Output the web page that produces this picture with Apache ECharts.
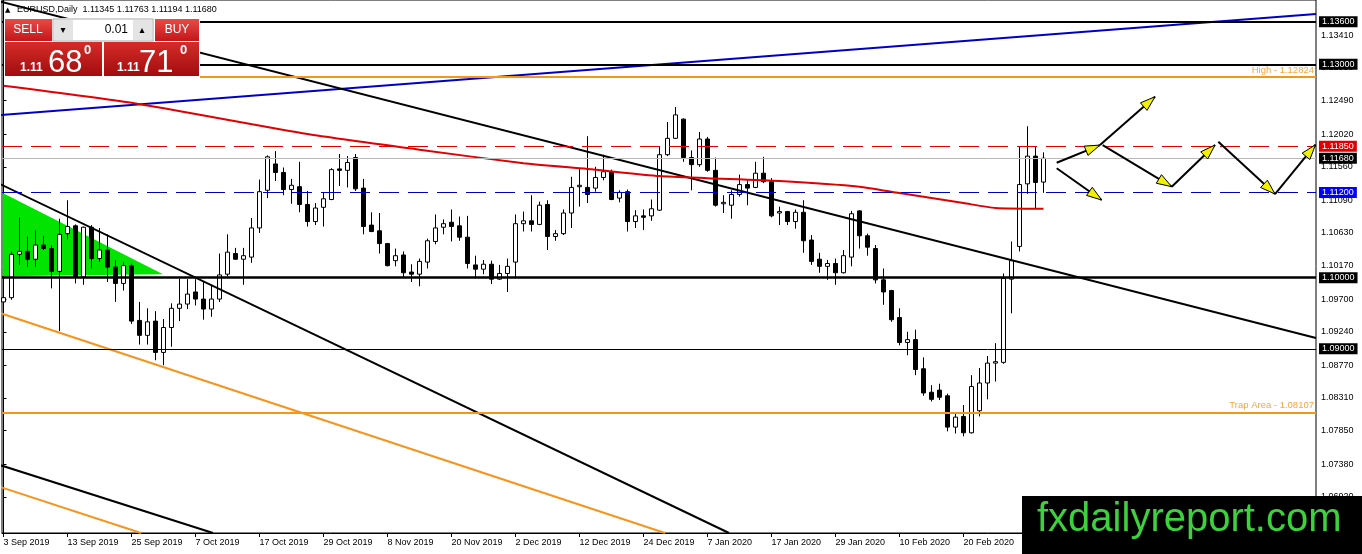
<!DOCTYPE html>
<html>
<head>
<meta charset="utf-8">
<title>EURUSD Daily</title>
<script src="https://cdn.jsdelivr.net/npm/echarts@6/dist/echarts.min.js"></script>
<style>
  html, body { margin: 0; padding: 0; background: #fff; }
  #chart { width: 1362px; height: 554px; }
</style>
</head>
<body>
<div id="chart"></div>
<script>
// bar index 0 = 3 Sep 2019, one bar per trading day
const dateTickBars = [0, 8, 16, 24, 32, 40, 48, 56, 64, 72, 80, 88, 96, 104, 112, 120];
const dateLabels = ['3 Sep 2019', '13 Sep 2019', '25 Sep 2019', '7 Oct 2019', '17 Oct 2019', '29 Oct 2019',
  '8 Nov 2019', '20 Nov 2019', '2 Dec 2019', '12 Dec 2019', '24 Dec 2019', '7 Jan 2020', '17 Jan 2020',
  '29 Jan 2020', '10 Feb 2020', '20 Feb 2020'];
const priceTicks = [1.1341, 1.1295, 1.1249, 1.1202, 1.1156, 1.1109, 1.1063, 1.1017, 1.0970, 1.0924,
  1.0877, 1.0831, 1.0785, 1.0738, 1.0692];

const opens = [
  1.0966, 1.0972, 1.1033, 1.1037, 1.1026, 1.1046, 1.1041, 1.1009, 1.1062, 1.1073,
  1.1001, 1.1071, 1.1027, 1.1039, 1.1015, 1.0992, 1.1017, 1.0940, 1.0919, 1.0939,
  1.0895, 1.0930, 1.0957, 1.0963, 1.0980, 1.0970, 1.0956, 1.0970, 1.1005, 1.1034,
  1.1026, 1.1029, 1.1070, 1.1123, 1.1160, 1.1148, 1.1124, 1.1128, 1.1103, 1.1079,
  1.1099, 1.1110, 1.1153, 1.1151, 1.1169, 1.1126, 1.1074, 1.1066, 1.1048, 1.1024,
  1.1032, 1.1008, 1.1005, 1.1022, 1.1051, 1.1071, 1.1078, 1.1073, 1.1057, 1.1018,
  1.1012, 1.1019, 1.0998, 1.1006, 1.1022, 1.1076, 1.1080, 1.1075, 1.1103, 1.1058,
  1.1062, 1.1091, 1.1128, 1.1127, 1.1126, 1.1141, 1.1149, 1.1112, 1.1121, 1.1079,
  1.1087, 1.1087, 1.1095, 1.1173, 1.1196, 1.1223, 1.1169, 1.1159, 1.1195, 1.1151,
  1.1104, 1.1102, 1.1117, 1.1131, 1.1127, 1.1147, 1.1135, 1.1091, 1.1093, 1.1079,
  1.1092, 1.1053, 1.1026, 1.1016, 1.1020, 1.1007, 1.1029, 1.1094, 1.1059, 1.1041,
  1.0997, 1.0982, 1.0944, 1.0909, 1.0913, 1.0872, 1.0839, 1.0842, 1.0834, 1.0790,
  1.0805, 1.0782, 1.0813, 1.0852, 1.0880, 1.0881, 1.0998, 1.1044, 1.1132, 1.1171,
  1.11345
];
const highs = [
  1.0985, 1.1037, 1.1085, 1.1058, 1.1067, 1.1059, 1.1046, 1.1083, 1.1109, 1.1075,
  1.1072, 1.1074, 1.1070, 1.1061, 1.1025, 1.1022, 1.1020, 1.0966, 1.0957, 1.0953,
  1.0942, 1.0964, 1.0999, 1.0998, 1.0998, 1.0994, 1.0990, 1.1034, 1.1061, 1.1042,
  1.1042, 1.1084, 1.1138, 1.1172, 1.1178, 1.1155, 1.1139, 1.1163, 1.1122, 1.1105,
  1.1120, 1.1154, 1.1174, 1.1171, 1.1174, 1.1139, 1.1092, 1.1091, 1.1049, 1.1041,
  1.1037, 1.1019, 1.1027, 1.1055, 1.1089, 1.1082, 1.1096, 1.1086, 1.1087, 1.1031,
  1.1025, 1.1024, 1.1018, 1.1027, 1.1089, 1.1093, 1.1116, 1.1107, 1.1109, 1.1067,
  1.1096, 1.1142, 1.1153, 1.1199, 1.1156, 1.1173, 1.1152, 1.1123, 1.1124, 1.1095,
  1.1096, 1.1110, 1.1184, 1.1219, 1.1240, 1.1224, 1.1179, 1.1205, 1.1198, 1.1169,
  1.1116, 1.1123, 1.1145, 1.1137, 1.1163, 1.1170, 1.1140, 1.1100, 1.1094, 1.1096,
  1.1109, 1.1060, 1.1035, 1.1025, 1.1027, 1.1039, 1.1094, 1.1095, 1.1062, 1.1046,
  1.1013, 1.0983, 1.0957, 1.0924, 1.0927, 1.0888, 1.0849, 1.0851, 1.0837, 1.0809,
  1.0821, 1.0863, 1.0873, 1.0890, 1.0908, 1.1006, 1.1051, 1.1184, 1.1213, 1.1185,
  1.11763
];
const lows = [
  1.0926, 1.0969, 1.1018, 1.1015, 1.1015, 1.1039, 1.0985, 1.0925, 1.1054, 1.0992,
  1.0990, 1.1013, 1.1022, 1.0994, 1.0966, 1.0982, 1.0935, 1.0906, 1.0906, 1.0884,
  1.0877, 1.0903, 1.0939, 1.0956, 1.0961, 1.0941, 1.0945, 1.0966, 1.1002, 1.1025,
  1.0990, 1.1021, 1.1063, 1.1112, 1.1136, 1.1116, 1.1104, 1.1092, 1.1072, 1.1074,
  1.1072, 1.1109, 1.1129, 1.1127, 1.1122, 1.1061, 1.1064, 1.1034, 1.1016, 1.1016,
  1.1001, 1.0994, 1.0988, 1.1013, 1.1047, 1.1061, 1.1051, 1.1052, 1.1013, 1.0999,
  1.1005, 1.0991, 1.0997, 1.0980, 1.0999, 1.1065, 1.1065, 1.1074, 1.1039, 1.1052,
  1.1060, 1.1070, 1.1100, 1.1105, 1.1121, 1.1137, 1.1109, 1.1106, 1.1065, 1.1070,
  1.1067, 1.1080, 1.1094, 1.1171, 1.1195, 1.1163, 1.1123, 1.1156, 1.1149, 1.1100,
  1.1091, 1.1083, 1.1114, 1.1102, 1.1126, 1.1133, 1.1085, 1.1074, 1.1074, 1.1069,
  1.1035, 1.1018, 1.1007, 1.0997, 1.0990, 1.1006, 1.1016, 1.1041, 1.1031, 1.0992,
  1.0962, 1.0938, 1.0905, 1.0891, 1.0863, 1.0834, 1.0826, 1.0828, 1.0784, 1.0781,
  1.0777, 1.0781, 1.0805, 1.0829, 1.0854, 1.0879, 1.0950, 1.1037, 1.1118, 1.1098,
  1.11194
];
const closes = [
  1.0972, 1.1033, 1.1037, 1.1026, 1.1046, 1.1041, 1.1009, 1.1061, 1.1072, 1.1001,
  1.1071, 1.1027, 1.1039, 1.1015, 1.0992, 1.1017, 1.0939, 1.0919, 1.0938, 1.0895,
  1.0930, 1.0957, 1.0963, 1.0977, 1.0970, 1.0956, 1.0970, 1.1004, 1.1036, 1.1026,
  1.1031, 1.1070, 1.1121, 1.1170, 1.1148, 1.1124, 1.1130, 1.1103, 1.1079, 1.1098,
  1.1111, 1.1152, 1.1151, 1.1162, 1.1125, 1.1072, 1.1065, 1.1048, 1.1017, 1.1031,
  1.1007, 1.1005, 1.1023, 1.1052, 1.1070, 1.1076, 1.1072, 1.1057, 1.1020, 1.1012,
  1.1019, 1.0998, 1.1006, 1.1016, 1.1076, 1.1080, 1.1075, 1.1102, 1.1058, 1.1062,
  1.1091, 1.1127, 1.1130, 1.1117, 1.1141, 1.1149, 1.1110, 1.1120, 1.1079, 1.1087,
  1.1085, 1.1097, 1.1173, 1.1196, 1.1229, 1.1169, 1.1159, 1.1195, 1.1151, 1.1102,
  1.1106, 1.1117, 1.1131, 1.1126, 1.1147, 1.1135, 1.1087, 1.1093, 1.1079, 1.1092,
  1.1052, 1.1023, 1.1016, 1.1020, 1.1007, 1.1031, 1.1090, 1.1059, 1.1043, 1.0997,
  1.0980, 1.0941, 1.0909, 1.0913, 1.0871, 1.0838, 1.0829, 1.0832, 1.0790, 1.0804,
  1.0782, 1.0847, 1.0852, 1.0880, 1.0882, 1.0999, 1.1024, 1.1131, 1.1171, 1.1134,
  1.11680
];

// moving average, read at a few bars
const maLine = [[0, 1.1270], [16, 1.1246], [38, 1.1202], [52, 1.1180], [65, 1.1161], [73, 1.1153],
  [82, 1.1143], [88, 1.1140], [97, 1.1136], [107, 1.1128], [112, 1.1119], [120, 1.1105],
  [124, 1.1098], [130, 1.1097]];

// drawn objects: [bar, price] end points
const blueTrend = [[-0.44, 1.12288], [164.06, 1.13708]];
const blackTrendLong = [[-0.44, 1.13883], [164.06, 1.09153]];
const blackTrendSteep = [[-0.44, 1.11318], [90.69, 1.06411]];
const blackTrendLow = [[-0.44, 1.07367], [26.19, 1.06411]];
const orangeTrendUpper = [[-0.44, 1.09504], [82.69, 1.06411]];
const orangeTrendLower = [[-0.44, 1.07058], [17.19, 1.06411]];
const greenTriangle = [[-0.1, 1.1119], [19.94, 1.1005], [-0.1, 1.1002]];
const arrowSegments = [
  [131.65, 1.11617, 137.06, 1.11865],
  [137.06, 1.11865, 143.94, 1.12545],
  [131.65, 1.11539, 137.27, 1.11093],
  [137.4, 1.11865, 146.03, 1.11280],
  [146.03, 1.11280, 151.44, 1.11866],
  [151.85, 1.11913, 158.94, 1.11177],
  [158.94, 1.11177, 164.0, 1.11870]
];

const levelPrices = [1.1360, 1.1300, 1.1185, 1.1168, 1.1120, 1.1000, 1.0900];
const zonePrices = [1.12824, 1.08107];
const zoneNames = ['High', 'Trap Area'];
const zoneStartBars = [24.56, -0.18];

const X_MIN = -0.1875, X_MAX = 164.0625;
const Y_MIN = 1.06411, Y_MAX = 1.13905;

const levelStyles = [
  { color: '#000', width: 2, type: 'solid', bg: '#000' },
  { color: '#000', width: 2, type: 'solid', bg: '#000' },
  { color: '#e00000', width: 1, type: [20, 9], bg: '#e00000' },
  { color: '#b8b8b8', width: 1, type: 'solid', bg: '#000' },
  { color: '#0000c0', width: 1, type: [20, 9], bg: '#0000ff' },
  { color: '#000', width: 2.5, type: 'solid', bg: '#000' },
  { color: '#000', width: 1, type: 'solid', bg: '#000' }
];

const FONT = 'Liberation Sans';

function trendSeries(points, color, z) {
  return {
    type: 'line', data: points, showSymbol: false, silent: true, z: z,
    lineStyle: { color: color, width: 2 }, clip: true
  };
}

const redTop = { type: 'linear', x: 0, y: 0, x2: 0, y2: 1,
  colorStops: [{ offset: 0, color: '#ea4a44' }, { offset: 1, color: '#c4161b' }] };
const redBig = { type: 'linear', x: 0, y: 0, x2: 0, y2: 1,
  colorStops: [{ offset: 0, color: '#d62c28' }, { offset: 1, color: '#a20c0f' }] };

function txt(x, y, text, font, align, vAlign, fill) {
  return { type: 'text', x: x, y: y, z: 100,
    style: { text: text, font: font, fill: fill || '#fff', align: align || 'left', verticalAlign: vAlign || 'middle' } };
}

const panel = [
  { type: 'rect', z: 99, shape: { x: 4, y: 18, width: 196, height: 59 }, style: { fill: '#fff' } },
  { type: 'rect', z: 100, shape: { x: 5, y: 19, width: 47, height: 22 }, style: { fill: redTop } },
  txt(28, 30, 'SELL', '12px ' + FONT, 'center'),
  { type: 'rect', z: 100, shape: { x: 53, y: 19, width: 100, height: 22 }, style: { fill: '#fff', stroke: '#a8a8a8' } },
  { type: 'rect', z: 100, shape: { x: 54, y: 20, width: 19, height: 20 }, style: { fill: '#e4e4e4' } },
  { type: 'rect', z: 100, shape: { x: 133, y: 20, width: 19, height: 20 }, style: { fill: '#e4e4e4' } },
  txt(63, 30, '▾', '10px DejaVu Sans', 'center', 'middle', '#000'),
  txt(142, 30, '▴', '10px DejaVu Sans', 'center', 'middle', '#000'),
  txt(128, 30, '0.01', '12px ' + FONT, 'right', 'middle', '#000'),
  { type: 'rect', z: 100, shape: { x: 155, y: 19, width: 44, height: 22 }, style: { fill: redTop } },
  txt(177, 30, 'BUY', '12px ' + FONT, 'center'),
  { type: 'rect', z: 100, shape: { x: 5, y: 42, width: 97, height: 34 }, style: { fill: redBig } },
  { type: 'rect', z: 100, shape: { x: 104, y: 42, width: 95, height: 34 }, style: { fill: redBig } },
  txt(20, 74, '1.11', 'bold 12px ' + FONT, 'left', 'bottom'),
  txt(48, 79, '68', '31px ' + FONT, 'left', 'bottom'),
  txt(84, 44, '0', 'bold 13px ' + FONT, 'left', 'top'),
  txt(117, 74, '1.11', 'bold 12px ' + FONT, 'left', 'bottom'),
  txt(139, 79, '71', '31px ' + FONT, 'left', 'bottom'),
  txt(180, 44, '0', 'bold 13px ' + FONT, 'left', 'top')
];

const header = [
  txt(5, 10, '▲', '7px DejaVu Sans', 'left', 'middle', '#000'),
  txt(17, 10, 'EURUSD,Daily  1.11345 1.11763 1.11194 1.11680', '9px ' + FONT, 'left', 'middle', '#000')
];

const logo = [
  { type: 'rect', z: 110, shape: { x: 1022, y: 496, width: 340, height: 58 }, style: { fill: '#000' } },
  { type: 'text', z: 111, x: 1037, y: 520,
    style: { text: 'fxdailyreport.com', font: '40px ' + FONT, fill: '#3cd23c', align: 'left', verticalAlign: 'middle' } }
];

const candleData = opens.map((o, i) => [i, o, closes[i], lows[i], highs[i]]);

const chart = echarts.init(document.getElementById('chart'), null, { renderer: 'canvas' });

chart.setOption({
  animation: false,
  backgroundColor: '#fff',
  textStyle: { fontFamily: FONT },
  grid: {
    left: 2, right: 46, top: 0, bottom: 21, containLabel: false, outerBoundsMode: 'none',
    show: true, borderColor: '#000', borderWidth: 1
  },
  xAxis: {
    type: 'value', min: X_MIN, max: X_MAX,
    axisLine: { show: true, lineStyle: { color: '#000', width: 1 } },
    axisTick: { show: true, customValues: dateTickBars, length: 4, lineStyle: { color: '#000' } },
    axisLabel: {
      customValues: dateTickBars, align: 'left', margin: 5, fontSize: 9, color: '#000',
      formatter: v => dateLabels[dateTickBars.indexOf(v)] || ''
    },
    splitLine: { show: false }
  },
  yAxis: {
    type: 'value', position: 'right', min: Y_MIN, max: Y_MAX, scale: true,
    axisLine: { show: true, lineStyle: { color: '#000', width: 1 } },
    axisTick: { show: true, customValues: priceTicks, length: 3, lineStyle: { color: '#000' } },
    axisLabel: {
      customValues: priceTicks, margin: 5, fontSize: 9, color: '#000',
      formatter: v => v.toFixed(5)
    },
    splitLine: { show: false }
  },
  graphic: header.concat(panel, logo),
  series: [
    {
      type: 'custom', z: 1, silent: true, clip: true,
      data: greenTriangle,
      renderItem: (params, api) => {
        if (params.dataIndex !== 0) return null;
        return { type: 'polygon', shape: { points: greenTriangle.map(p => api.coord(p)) },
          style: { fill: '#00e400' } };
      }
    },
    {
      type: 'candlestick', z: 2, silent: true,
      data: candleData,
      barWidth: 5,
      itemStyle: {
        color: '#fff', color0: '#000',
        borderColor: '#000', borderColor0: '#000', borderColorDoji: '#000', borderWidth: 1
      }
    },
    {
      type: 'line', data: [], z: 3, silent: true,
      markLine: {
        silent: true, symbol: 'none', animation: false, precision: 5,
        data: levelPrices.map((v, i) => ({
          yAxis: v,
          lineStyle: { color: levelStyles[i].color, width: levelStyles[i].width, type: levelStyles[i].type },
          label: {
            show: true, position: 'end', distance: 3, formatter: p => Number(p.value).toFixed(5),
            color: '#fff', backgroundColor: levelStyles[i].bg, fontSize: 9, padding: [1, 3, 0, 3], lineHeight: 10
          }
        })).concat(zonePrices.map((v, i) => [
          {
            coord: [zoneStartBars[i], v],
            lineStyle: { color: '#f7941d', width: 2, type: 'solid' },
            label: {
              show: true, position: 'insideEndTop', distance: 2,
              formatter: zoneNames[i] + ' - ' + v.toFixed(5), color: '#f4a640', fontSize: 9.5
            }
          },
          { coord: [X_MAX, v] }
        ]))
      }
    },
    trendSeries(blueTrend, '#0000c0', 4),
    trendSeries(blackTrendLong, '#000', 4),
    trendSeries(blackTrendSteep, '#000', 4),
    trendSeries(blackTrendLow, '#000', 4),
    trendSeries(orangeTrendUpper, '#f7941d', 4),
    trendSeries(orangeTrendLower, '#f7941d', 4),
    {
      type: 'line', data: maLine, showSymbol: false, silent: true, z: 4, smooth: 0.2,
      lineStyle: { color: '#e00000', width: 2 }
    },
    {
      type: 'custom', z: 5, silent: true, clip: false,
      dimensions: ['x1', 'y1', 'x2', 'y2'],
      encode: { x: [0, 2], y: [1, 3] },
      data: arrowSegments,
      renderItem: (params, api) => {
        const a = api.coord([api.value(0), api.value(1)]);
        const b = api.coord([api.value(2), api.value(3)]);
        const ang = Math.atan2(b[1] - a[1], b[0] - a[0]);
        const len = 15, half = 5;
        const bx = b[0] - len * Math.cos(ang), by = b[1] - len * Math.sin(ang);
        const px = -Math.sin(ang) * half, py = Math.cos(ang) * half;
        return {
          type: 'group',
          children: [
            { type: 'line', shape: { x1: a[0], y1: a[1], x2: b[0], y2: b[1] },
              style: { stroke: '#000', lineWidth: 2 } },
            { type: 'polygon', shape: { points: [[b[0], b[1]], [bx + px, by + py], [bx - px, by - py]] },
              style: { fill: '#f0f000', stroke: '#000', lineWidth: 1 } }
          ]
        };
      }
    }
  ]
});
</script>
</body>
</html>
